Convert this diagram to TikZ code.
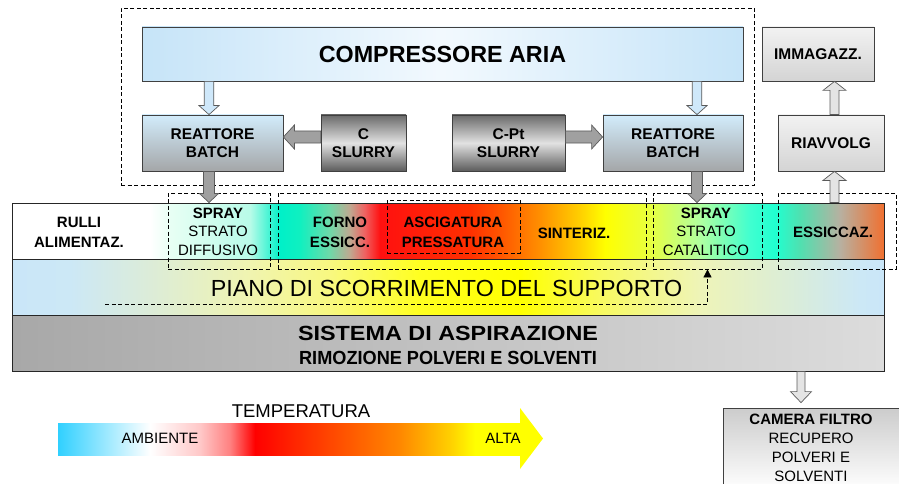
\documentclass[tikz,border=0pt]{standalone}
\usepackage{fontspec}
\setmainfont{Liberation Sans}
\usepackage{graphicx}
\usetikzlibrary{calc,arrows.meta}
\definecolor{bordc}{HTML}{404040}
\definecolor{compL}{HTML}{C6E4F8}
\definecolor{compM}{HTML}{F2F9FE}
\definecolor{rtop}{HTML}{D2ECFB}
\definecolor{rbot}{HTML}{A4A6A8}
\definecolor{sdark}{HTML}{6A6A6A}
\definecolor{slight}{HTML}{E2E2E2}
\definecolor{sdarkb}{HTML}{5C5C5C}
\definecolor{gtop}{HTML}{F2F2F2}
\definecolor{gbot}{HTML}{D4D4D4}
\definecolor{sisL}{HTML}{A8A8A8}
\definecolor{sisR}{HTML}{DCDCDC}
\definecolor{camtop}{HTML}{CCCCCC}
\definecolor{arrblue}{HTML}{CFE8FA}
\definecolor{arrgray}{HTML}{A0A0A0}
\definecolor{arrlight}{HTML}{E4E4E4}
\definecolor{arrbord}{HTML}{5A5A5A}
\definecolor{tyel}{HTML}{FFFF00}
% band colours
\definecolor{cW}{HTML}{FFFFFF}
\definecolor{ba}{HTML}{E8FFF4}
\definecolor{bb}{HTML}{B8FBE8}
\definecolor{bc}{HTML}{00F0C8}
\definecolor{bd}{HTML}{10F0C0}
\definecolor{be}{HTML}{70D8A8}
\definecolor{bf}{HTML}{C0A890}
\definecolor{bg}{HTML}{F06060}
\definecolor{bh}{HTML}{FF1010}
\definecolor{bi}{HTML}{FF3000}
\definecolor{bj}{HTML}{FF5500}
\definecolor{bk}{HTML}{FF9000}
\definecolor{bl}{HTML}{FFD000}
\definecolor{bm}{HTML}{FFFF00}
\definecolor{bn}{HTML}{E8FF40}
\definecolor{bo}{HTML}{B0FFA0}
\definecolor{bp}{HTML}{40FFD0}
\definecolor{bq}{HTML}{20FFD0}
\definecolor{br}{HTML}{50E0B0}
\definecolor{bs}{HTML}{B8B0A0}
\definecolor{bt}{HTML}{F07030}
% piano colours
\definecolor{pa}{HTML}{CAE6F8}
\definecolor{pb}{HTML}{CCE8F6}
\definecolor{pc}{HTML}{DCECD8}
\definecolor{pd}{HTML}{F0F4B0}
\definecolor{pe}{HTML}{F8F880}
\definecolor{pf}{HTML}{FFFF20}
\definecolor{pg}{HTML}{FFFF00}
\definecolor{ph}{HTML}{F8FA60}
\definecolor{pi}{HTML}{EEF4B8}
\definecolor{pj}{HTML}{D8ECDC}
% temperature colours
\definecolor{ta}{HTML}{30D0FF}
\definecolor{tb}{HTML}{FFC8C8}
\definecolor{tc}{HTML}{FF8080}
\definecolor{td}{HTML}{FF0000}
\definecolor{te}{HTML}{FF5000}
\definecolor{tf}{HTML}{FF8800}
\definecolor{tg}{HTML}{FFD000}
\pgfdeclarehorizontalshading{bandshade}{100bp}{color(0bp)=(cW); color(25bp)=(cW); color(32.91bp)=(cW); color(34.06bp)=(ba); color(38.65bp)=(bb); color(40.37bp)=(bc); color(41.51bp)=(bd); color(43.23bp)=(be); color(44.38bp)=(bf); color(45.24bp)=(bg); color(46.10bp)=(bh); color(51.26bp)=(bi); color(52.98bp)=(bj); color(55.28bp)=(bk); color(57.57bp)=(bl); color(59.00bp)=(bm); color(61.58bp)=(bn); color(64.45bp)=(bo); color(67.32bp)=(bp); color(68.75bp)=(bq); color(70.18bp)=(br); color(72.48bp)=(bs); color(75bp)=(bt); color(100bp)=(bt)}
\pgfdeclarehorizontalshading{pianoshade}{100bp}{color(0bp)=(pa); color(25bp)=(pa); color(28.33bp)=(pb); color(32.91bp)=(pc); color(38.65bp)=(pd); color(43.23bp)=(pe); color(48.39bp)=(pf); color(54.13bp)=(pg); color(58.72bp)=(ph); color(64.45bp)=(pi); color(70.18bp)=(pj); color(73.62bp)=(pb); color(75bp)=(pa); color(100bp)=(pa)}
\pgfdeclarehorizontalshading{tempshade}{100bp}{color(0bp)=(ta); color(25bp)=(ta); color(34.96bp)=(cW); color(40.37bp)=(tb); color(43.62bp)=(tc); color(46.32bp)=(td); color(55.52bp)=(te); color(62.01bp)=(tf); color(67.43bp)=(tg); color(70.13bp)=(tyel); color(75bp)=(tyel); color(100bp)=(tyel)}
\newcommand\myfs[2]{\fontsize{#1}{#2}\selectfont}
% vertical block arrow: from, tip, style, shaft half width, head half width, signed head length
\newcommand\blkV[6]{\path[#3] let \p1=(#1),\p2=(#2) in
 ({\x1-#4},\y1) -- ({\x1-#4},{\y2+(#6)}) -- ({\x1-#5},{\y2+(#6)}) -- (\x1,\y2) -- ({\x1+#5},{\y2+(#6)}) -- ({\x1+#4},{\y2+(#6)}) -- ({\x1+#4},\y1) -- cycle;}
% horizontal block arrow
\newcommand\blkH[6]{\path[#3] let \p1=(#1),\p2=(#2) in
 (\x1,{\y1+#4}) -- ({\x2+(#6)},{\y1+#4}) -- ({\x2+(#6)},{\y1+#5}) -- (\x2,\y1) -- ({\x2+(#6)},{\y1-#5}) -- ({\x2+(#6)},{\y1-#4}) -- (\x1,{\y1-#4}) -- cycle;}
\begin{document}
\begin{tikzpicture}[x=1pt,y=-1pt,
  bx/.style={draw=bordc, line width=0.8pt, inner sep=0pt, align=center},
  strip/.style={draw=black!85, line width=0.9pt, inner sep=0pt, minimum width=872pt, minimum height=56pt},
  dsh/.style={draw=black, dash pattern=on 4pt off 2.5pt, line width=0.8pt},
  dbox/.style={dsh, inner sep=0pt},
  boxlab/.style={font=\myfs{15.5}{18}\bfseries},
  txt/.style={inner sep=0pt, align=center, text=black},
  bluearr/.style={fill=arrblue, draw=arrbord, line width=0.7pt},
  grayarr/.style={fill=arrgray, draw=arrbord, line width=0.7pt},
  lightarr/.style={fill=arrlight, draw=arrbord, line width=0.7pt}]
\path[use as bounding box] (0,0) rectangle (899,484);
\clip (0,0) rectangle (899,484);

% strips
\node[strip, shade, shading=bandshade] (band) at (448,231) {};
\node[strip, shade, shading=pianoshade] (piano) at (448,287) {};
\node[strip, left color=sisL, right color=sisR] (sis) at (448,343) {};

% dashed boxes
\node[dbox, minimum width=633pt, minimum height=177pt] (ddtop) at (437.5,96.5) {};
\node[dbox, minimum width=102pt, minimum height=76pt] (dd1) at (219,231) {};
\node[dbox, minimum width=368pt, minimum height=76pt] (dd2) at (462,231) {};
\node[dbox, minimum width=133pt, minimum height=53pt] (dd3) at (453.5,226.5) {};
\node[dbox, minimum width=109pt, minimum height=76pt] (dd4) at (707.5,231) {};
\node[dbox, minimum width=118pt, minimum height=76pt] (dd5) at (837,231) {};

% upper boxes
\node[bx, minimum width=601pt, minimum height=54pt, left color=compL, right color=compL, middle color=compM, font=\myfs{23.3}{26}\bfseries] (comp) at (442.5,54) {COMPRESSORE ARIA};
\node[bx, boxlab, minimum width=141pt, minimum height=56pt, top color=rtop, bottom color=rbot] (r1) at (212.5,143) {REATTORE\\BATCH};
\node[bx, boxlab, minimum width=85pt, minimum height=56pt, top color=sdark, bottom color=sdarkb, middle color=slight] (cs) at (363.5,143) {C\\SLURRY};
\node[bx, boxlab, minimum width=113pt, minimum height=56pt, top color=sdark, bottom color=sdarkb, middle color=slight] (cpt) at (508.5,143) {C-Pt\\SLURRY};
\node[bx, boxlab, minimum width=140pt, minimum height=56pt, top color=rtop, bottom color=rbot] (r2) at (673,143) {REATTORE\\BATCH};
\node[bx, boxlab, minimum width=112pt, minimum height=54pt, top color=gtop, bottom color=gbot] (imm) at (818,54) {IMMAGAZZ.};
\node[bx, boxlab, minimum width=106pt, minimum height=56pt, top color=gtop, bottom color=gbot] (riav) at (831,143) {RIAVVOLG};
\node[bx, minimum width=182pt, minimum height=82pt, top color=camtop, bottom color=white] (cam) at (814,449) {};

% band texts
\node[txt, font=\myfs{15}{20}\bfseries] (rulli) at (79,232) {RULLI\\ALIMENTAZ.};
\node[txt, font=\myfs{15}{18.5}] (spr1) at (218,231.5) {\textbf{SPRAY}\\STRATO\\DIFFUSIVO};
\node[txt, font=\myfs{15}{20}\bfseries] (forno) at (340,232) {FORNO\\ESSICC.};
\node[txt, font=\myfs{15}{20}\bfseries] (asci) at (453,232) {ASCIGATURA\\PRESSATURA};
\node[txt, font=\myfs{15}{20}\bfseries] (sint) at (574,233) {SINTERIZ.};
\node[txt, font=\myfs{15}{18.5}] (spr2) at (706,231.5) {\textbf{SPRAY}\\STRATO\\CATALITICO};
\node[txt, font=\myfs{15}{20}\bfseries] (essi) at (833,232.5) {ESSICCAZ.};
\node[txt, font=\myfs{23.3}{26}] (pianot) at (446.5,288) {PIANO DI SCORRIMENTO DEL SUPPORTO};
\node[txt, font=\myfs{20.5}{24}\bfseries] (sist1) at (448,333.5) {\scalebox{1.14}[1]{SISTEMA DI ASPIRAZIONE}};
\node[txt, font=\myfs{19}{22}\bfseries] (sist2) at (448,357.5) {\scalebox{0.955}[1]{RIMOZIONE POLVERI E SOLVENTI}};
\node[txt, font=\myfs{15}{19}] (camt) at (811,447.5) {\textbf{CAMERA FILTRO}\\RECUPERO\\POLVERI E\\SOLVENTI};

% dashed arrow under piano text
\coordinate (pst) at (105,304);
\draw[dsh, -{Triangle[length=8pt,width=8pt]}] (pst) -| (dd4.south);

% helper coordinates for arrows
\coordinate (xa) at (209,0);
\coordinate (xb) at (697,0);
\coordinate (xr) at (834.5,0);
\coordinate (xc) at (801,0);
\coordinate (ya) at (0,137);
\coordinate (camtip) at ($(xc |- cam.north)+(0,-5)$);

% block arrows
\blkV{xa |- comp.south}{xa |- r1.north}{bluearr}{4.75pt}{10pt}{9pt}
\blkV{xb |- comp.south}{xb |- r2.north}{bluearr}{4.75pt}{10pt}{9pt}
\blkH{cs.west |- ya}{r1.east |- ya}{grayarr}{6pt}{12pt}{11pt}
\blkH{cpt.east |- ya}{r2.west |- ya}{grayarr}{6pt}{12pt}{-11pt}
\blkV{xa |- r1.south}{xa |- band.north}{grayarr}{5.5pt}{9.5pt}{9pt}
\blkV{xb |- r2.south}{xb |- band.north}{grayarr}{5.5pt}{9.5pt}{9pt}
\blkV{xr |- riav.north}{xr |- imm.south}{lightarr}{4.5pt}{11.5pt}{-9pt}
\blkV{xr |- band.north}{xr |- riav.south}{lightarr}{4.5pt}{11.5pt}{-9pt}
\blkV{xc |- sis.south}{camtip}{lightarr}{4pt}{10.5pt}{11pt}

% temperature scale
\shade[shading=tempshade] (58,423) rectangle (520,455);
\fill[tyel] (520,408) -- (543,438.5) -- (520,469) -- cycle;
\node[txt, font=\myfs{18.5}{22}] (tempt) at (301,411) {TEMPERATURA};
\node[txt, font=\myfs{15}{18}] (amb) at (160,438) {AMBIENTE};
\node[txt, font=\myfs{15}{18}] (alta) at (503,438) {ALTA};
\end{tikzpicture}
\end{document}
